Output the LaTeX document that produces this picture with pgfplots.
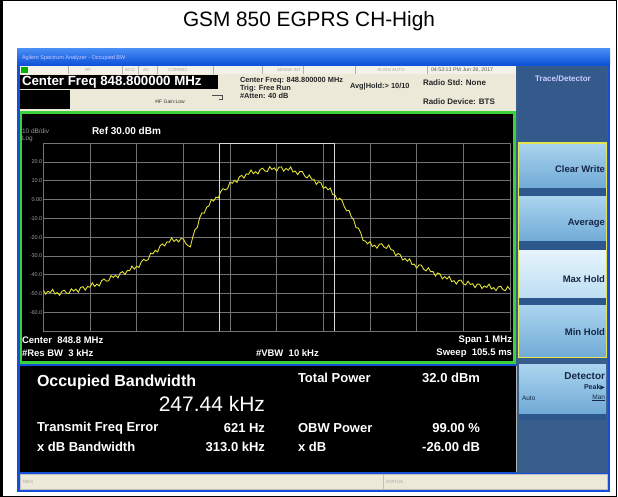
\documentclass[border=0pt]{standalone}
\usepackage{pgfplots}
\pgfplotsset{compat=1.18}
\usepackage{fontspec}
\setmainfont{Liberation Sans}
\newfontfamily\djv{DejaVu Sans}
\newcommand\fs[1]{\fontsize{#1bp}{#1bp}\selectfont}
\definecolor{winblue}{RGB}{22,80,215}
\definecolor{titletop}{RGB}{70,140,245}
\definecolor{titlebot}{RGB}{10,78,215}
\definecolor{beige}{RGB}{236,233,216}
\definecolor{beigerow}{RGB}{244,242,232}
\definecolor{panelblue}{RGB}{56,94,142}
\definecolor{paneltop}{RGB}{52,90,140}
\definecolor{btntop}{RGB}{170,212,238}
\definecolor{btnbot}{RGB}{112,170,214}
\definecolor{btndark}{RGB}{44,88,142}
\definecolor{maxtop}{RGB}{230,244,252}
\definecolor{maxbot}{RGB}{188,222,242}
\definecolor{btntext}{RGB}{22,38,70}
\definecolor{grn}{RGB}{60,210,60}
\definecolor{trace}{RGB}{226,226,56}
\definecolor{gridc}{RGB}{115,115,115}
\definecolor{ylw}{RGB}{228,228,80}
\newcommand\R[5]{\fill[#1] (#2,{497-(#3)}) rectangle (#4,{497-(#5)});}
\newcommand\T[4]{\node[#1] at (#2,{497-(#3)}) {#4};}
\newcommand\btn[5]{\shade[top color=#4,bottom color=#5] (519,{497-(#1)}) rectangle (606,{497-(#2)});
  \fill[btndark] (519,{497-(#2)}) rectangle (606,{497-(#3)});}
\begin{document}
\begin{tikzpicture}[x=1bp,y=1bp,every node/.style={inner sep=0pt,outer sep=0pt}]
\useasboundingbox (0,0) rectangle (618,497);
\fill[white] (0,0) rectangle (618,497);
% outer frame
\draw[black,line width=1.2bp] (1.5,0.6) rectangle (616.4,496.4);
\fill[black] (0,0) rectangle (3,497);
\T{anchor=center}{309}{21}{\fs{20.8}GSM 850 EGPRS CH-High}
% window
\R{winblue}{17}{49}{610}{492}
\shade[top color=titletop,bottom color=titlebot] (17,{497-49}) rectangle (610,{497-66});
\T{anchor=west,text=white!80!blue}{22}{58}{\fs{5.5}Agilent Spectrum Analyzer - Occupied BW}
% header
\R{beige}{20}{66}{516}{111}
\R{beigerow}{20}{66}{516}{74}
\R{green!70!black}{21}{67}{28}{73}
\foreach \sx in {68,122,138,157,213,262,303,355,427}{\draw[gray!60,line width=0.5bp] (\sx,{497-66}) -- (\sx,{497-74});}
\T{anchor=center,text=gray!70}{88}{70}{\fs{4.5}RF}
\T{anchor=west,text=gray!70}{125}{70}{\fs{4.5}50 Ω}
\T{anchor=west,text=gray!70}{143}{70}{\fs{4.5}AC}
\T{anchor=center,text=gray!70}{178}{70}{\fs{4.5}CORREC}
\T{anchor=center,text=gray!70}{289}{70}{\fs{4.5}SENSE:INT}
\T{anchor=center,text=gray!70}{391}{70}{\fs{4.5}ALIGN AUTO}
\T{anchor=west,text=gray!70!black}{431}{70}{\fs{5.3}04:53:13 PM Jun 28, 2017}
\R{black}{20}{75}{218}{89}
\T{anchor=west,text=white}{22}{82}{\fs{13.3}\bfseries Center Freq 848.800000 MHz}
\R{black}{20}{90}{70}{109}
\T{anchor=west,text=black!80}{155}{102}{\fs{5}\#IF Gain:Low}
\draw[black!70,line width=0.6bp] (212,{497-95}) -- (222,{497-95}) -- (222,{497-99}) -- (219,{497-99});
\T{anchor=west,text=black!85}{240}{81}{\fs{7.4}\bfseries Center Freq: 848.800000 MHz}
\T{anchor=west,text=black!85}{240}{88.5}{\fs{7.4}\bfseries Trig: Free Run}
\T{anchor=west,text=black!85}{240}{96}{\fs{7.4}\bfseries \#Atten: 40 dB}
\T{anchor=west,text=black!85}{350}{87}{\fs{7.4}\bfseries Avg|Hold:> 10/10}
\T{anchor=west,text=black!85}{423}{83}{\fs{8}\bfseries Radio Std: None}
\T{anchor=west,text=black!85}{423}{102}{\fs{8}\bfseries Radio Device: BTS}
% right panel
\R{panelblue}{516}{66}{608}{473}
\R{paneltop}{518}{67}{607}{141}
\T{anchor=center,text=white!80!blue}{563}{79}{\fs{8}\bfseries Trace/Detector}
\btn{143}{188}{197}{btntop}{btnbot}
\btn{197}{241}{251}{btntop}{btnbot}
\btn{251}{298}{306}{maxtop}{maxbot}
\btn{306}{357}{357}{btntop}{btnbot}
\draw[ylw,line width=1.2bp] (518.5,{497-143}) rectangle (606.5,{497-357.5});
\btn{365}{414}{420}{btntop}{btnbot}
\T{anchor=east,text=btntext}{605}{169}{\fs{9.5}\bfseries Clear Write}
\T{anchor=east,text=btntext}{605}{223}{\fs{9.5}\bfseries Average}
\T{anchor=east,text=btntext}{605}{279}{\fs{9.5}\bfseries Max Hold}
\T{anchor=east,text=btntext}{605}{332}{\fs{9.5}\bfseries Min Hold}
\T{anchor=east,text=btntext}{605}{376}{\fs{10}\bfseries Detector}
\T{anchor=east,text=btntext}{605}{387}{\fs{7}\bfseries Peak{\djv\fs{6}▶}}
\T{anchor=west,text=btntext}{522}{398}{\fs{6.5}Auto}
\T{anchor=east,text=btntext}{605}{398}{\fs{6.5}\underline{Man}}
% graph area
\filldraw[fill=black,draw=grn,line width=2.2bp] (21,{497-112.5}) rectangle (514.5,{497-362.5});
\T{anchor=west,text=gray!80}{22}{131}{\fs{6.5}10 dB/div}
\T{anchor=west,text=gray!80}{22}{139}{\fs{6.5}Log}
\T{anchor=west,text=white}{92}{131}{\fs{10}\bfseries Ref 30.00 dBm}
\T{anchor=west,text=white}{22}{340}{\fs{9.5}\bfseries Center~ 848.8 MHz}
\T{anchor=west,text=white}{22}{353}{\fs{9.5}\bfseries \#Res BW~ 3 kHz}
\T{anchor=west,text=white}{256}{353}{\fs{9.5}\bfseries \#VBW~ 10 kHz}
\T{anchor=east,text=white}{512}{340}{\fs{9.5}\bfseries Span 1 MHz}
\T{anchor=east,text=white}{512}{353}{\fs{9.5}\bfseries Sweep~ 105.5 ms}
\begin{axis}[at={(43.3bp,166bp)},anchor=south west,scale only axis,
  width=466.7bp,height=187.7bp,xmin=-500,xmax=500,ymin=-70,ymax=30,
  xtick={-400,-300,...,400},ytick={-60,-50,...,20},
  xticklabels={},
  yticklabels={-60.0,-50.0,-40.0,-30.0,-20.0,-10.0,0.00,10.0,20.0},
  yticklabel style={font=\fs{5.5},text=gray!75,xshift=-1bp},
  grid=major,major grid style={gridc,line width=0.8bp},
  axis line style={gridc,line width=0.8bp},
  tick style={draw=none},
  clip=true]
\addplot[gray!30,line width=0.9bp] coordinates {(-123.1,-70) (-123.1,30) (124.3,30) (124.3,-70)};
\addplot[trace,line width=0.9bp] table {
x y
-500 -48.1
-495 -50.3
-490 -48.8
-485 -49.6
-480 -47.8
-475 -50.3
-470 -49.5
-465 -51.0
-460 -48.8
-455 -48.3
-450 -49.9
-445 -50.0
-440 -47.5
-435 -48.7
-430 -47.7
-425 -49.3
-420 -46.8
-415 -46.4
-410 -48.2
-405 -46.3
-400 -46.7
-395 -44.3
-390 -46.3
-385 -45.0
-380 -46.0
-375 -43.2
-370 -42.3
-365 -43.4
-360 -43.3
-355 -40.5
-350 -41.5
-345 -40.3
-340 -41.7
-335 -39.0
-330 -38.4
-325 -39.9
-320 -37.8
-315 -37.9
-310 -35.4
-305 -37.1
-300 -35.5
-295 -36.1
-290 -33.1
-285 -31.8
-280 -32.6
-275 -31.9
-270 -28.5
-265 -28.8
-260 -27.0
-255 -27.9
-250 -24.7
-245 -23.6
-240 -24.7
-235 -22.5
-230 -22.7
-225 -20.4
-220 -22.3
-215 -21.2
-210 -22.5
-205 -20.8
-200 -20.9
-195 -23.4
-190 -24.5
-185 -25.2
-180 -20.2
-175 -16.0
-170 -14.9
-165 -9.7
-160 -7.1
-155 -7.2
-150 -4.1
-145 -3.3
-140 0.1
-135 -0.8
-130 1.3
-125 0.9
-120 4.2
-115 5.8
-110 5.2
-105 5.9
-100 9.3
-95 8.7
-90 10.3
-85 9.2
-80 12.1
-75 12.9
-70 11.5
-65 13.7
-60 13.5
-55 15.8
-50 13.8
-45 14.9
-40 13.7
-35 16.1
-30 16.7
-25 15.2
-20 15.0
-15 17.5
-10 16.1
-5 16.9
0 15.1
5 17.3
10 17.4
15 15.2
20 16.6
25 15.7
30 17.4
35 14.7
40 15.2
45 13.3
50 15.0
55 14.9
60 12.6
65 11.5
70 13.1
75 10.9
80 10.8
85 8.1
90 9.5
95 8.9
100 6.0
105 6.8
110 5.2
115 6.1
120 2.7
125 2.4
130 -0.2
135 0.7
140 -0.4
145 -3.8
150 -6.0
155 -5.7
160 -9.2
165 -10.7
170 -14.9
175 -15.2
180 -17.6
185 -21.7
190 -22.1
195 -23.6
200 -22.4
205 -25.0
210 -24.3
215 -25.9
220 -23.8
225 -23.5
230 -25.3
235 -26.0
240 -24.2
245 -26.7
250 -27.0
255 -29.9
260 -28.7
265 -29.4
270 -32.2
275 -31.4
280 -32.8
285 -31.6
290 -34.6
295 -34.4
300 -36.5
305 -34.8
310 -34.9
315 -37.1
320 -38.0
325 -36.3
330 -38.4
335 -38.3
340 -40.7
345 -39.1
350 -39.6
355 -42.2
360 -41.1
365 -42.3
370 -40.9
375 -43.7
380 -43.2
385 -45.0
390 -43.1
395 -42.9
400 -44.9
405 -45.5
410 -43.5
415 -45.2
420 -44.8
425 -46.9
430 -45.0
435 -45.1
440 -47.4
445 -46.0
450 -46.8
455 -45.0
460 -47.6
465 -46.9
470 -48.5
475 -46.5
480 -46.2
485 -48.0
490 -48.5
495 -46.3
500 -47.9
};
\end{axis}
% bottom panel
\R{black}{20}{366}{516}{472}
\draw[gray!60,line width=0.8bp] (516,{497-366}) -- (516,{497-472});
\T{anchor=west,text=white}{37}{382}{\fs{16}\bfseries Occupied Bandwidth}
\T{anchor=east,text=white}{265}{404}{\fs{21}247.44 kHz}
\T{anchor=west,text=white}{298}{378}{\fs{13}\bfseries Total Power}
\T{anchor=east,text=white}{480}{378}{\fs{13}\bfseries 32.0 dBm}
\T{anchor=west,text=white}{37}{428}{\fs{13}\bfseries Transmit Freq Error}
\T{anchor=east,text=white}{265}{428}{\fs{13}\bfseries 621 Hz}
\T{anchor=west,text=white}{298}{428}{\fs{13}\bfseries OBW Power}
\T{anchor=east,text=white}{480}{428}{\fs{13}\bfseries 99.00 \%}
\T{anchor=west,text=white}{37}{447}{\fs{13}\bfseries x dB Bandwidth}
\T{anchor=east,text=white}{265}{447}{\fs{13}\bfseries 313.0 kHz}
\T{anchor=west,text=white}{298}{447}{\fs{13}\bfseries x dB}
\T{anchor=east,text=white}{480}{447}{\fs{13}\bfseries -26.00 dB}
% status bar
\R{beige}{20}{474}{607}{489}
\draw[gray!50,line width=0.5bp] (20,{497-474}) rectangle (607,{497-489});
\draw[gray!50,line width=0.5bp] (383,{497-474}) -- (383,{497-489});
\T{anchor=west,text=gray!70}{23}{481.5}{\fs{4.5}MSG}
\T{anchor=west,text=gray!70}{386}{481.5}{\fs{4.5}STATUS}
\end{tikzpicture}
\end{document}
